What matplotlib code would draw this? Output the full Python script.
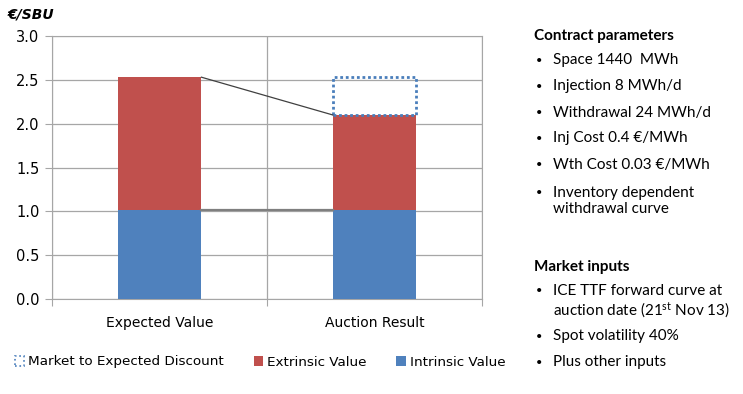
import matplotlib
matplotlib.use("Agg")
import matplotlib.pyplot as plt
from matplotlib.patches import Patch

# データ
categories = ["Expected Value", "Auction Result"]
intrinsic = [1.02, 1.02]
extrinsic = [1.51, 1.08]
discount = [0.0, 0.43]

contract_items = ["Space 1440  MWh", "Injection 8 MWh/d", "Withdrawal 24 MWh/d",
                  "Inj Cost 0.4 €/MWh", "Wth Cost 0.03 €/MWh",
                  "Inventory dependent\nwithdrawal curve"]
market_items = ["ICE TTF forward curve at\nauction date (21$^{st}$ Nov 13)",
                "Spot volatility 40%", "Plus other inputs"]

blue = "#4F81BD"
red = "#C0504D"
grid = "#A6A6A6"

plt.rcParams['mathtext.default'] = 'regular'

fig = plt.figure(figsize=(7.43, 3.94), dpi=100)
ax = fig.add_axes([52/743, 95/394, 430/743, 263/394])

x = range(len(categories))
w = 0.39
ax.bar(x, intrinsic, width=w, color=blue, zorder=3)
ax.bar(x, extrinsic, width=w, bottom=intrinsic, color=red, zorder=3)
tops = [a + b for a, b in zip(intrinsic, extrinsic)]
ax.bar(x[1], discount[1], width=w, bottom=tops[1], facecolor="none",
       edgecolor="#4A7EBB", linestyle=(0, (1, 1)), linewidth=2, zorder=3)

# 連結線
ax.plot([x[0] + w/2, x[1] - w/2], [tops[0], tops[1]], color="#404040", lw=0.9, zorder=4)
ax.plot([x[0] + w/2, x[1] - w/2], [intrinsic[0], intrinsic[1]], color="#7F7F7F", lw=1.6, zorder=4)

ax.set_xlim(-0.5, 1.5)
ax.set_ylim(0, 3.0)
ax.set_yticks([0, 0.5, 1.0, 1.5, 2.0, 2.5, 3.0])
ax.set_yticklabels([f"{v:.1f}" for v in ax.get_yticks()], fontsize=10.5)
ax.set_xticks([-0.5, 0.5, 1.5], minor=False)
ax.set_xticklabels([])
ax.set_xticks(list(x), minor=True)
ax.set_xticklabels(categories, minor=True, fontsize=10)
ax.tick_params(axis='x', which='minor', length=0, pad=12)
ax.tick_params(axis='x', which='major', length=5, color=grid)
ax.tick_params(axis='y', length=5, color=grid, pad=4)
ax.grid(True, color=grid, lw=0.9, zorder=0)
for s in ax.spines.values():
    s.set_color(grid)

fig.text(8/743, 1 - 15/394, "€/SBU", fontsize=10, fontweight='bold', style='italic',
         va='center', ha='left')

handles = [Patch(facecolor='white', edgecolor="#4A7EBB", linestyle=':', linewidth=1.2),
           Patch(facecolor=red), Patch(facecolor=blue)]
labels = ["Market to Expected Discount", "Extrinsic Value", "Intrinsic Value"]
fig.legend(handles, labels, loc='center', bbox_to_anchor=(260/743, 1 - 362/394), ncol=3,
           frameon=False, fontsize=9.7, handlelength=0.7, handleheight=0.7,
           handletextpad=0.3, columnspacing=2.2)

# 右側のテキスト
rf = "Lato"
fs = 11
fig.text(534/743, 1 - 36/394, "Contract parameters", fontsize=fs, fontweight='bold',
         family=rf, va='center')
ys = [63, 89, 116, 141, 168, 196]
for y, t in zip(ys, contract_items):
    fig.text(536/743, 1 - (y - 3)/394, "•", fontsize=8, family=rf, va='center')
    fig.text(553/743, 1 - (y - 10)/394, t, fontsize=fs, family=rf, va='top', linespacing=1.15)

fig.text(534/743, 1 - 267/394, "Market inputs", fontsize=fs, fontweight='bold',
         family=rf, va='center')
ys = [294, 339, 365]
for y, t in zip(ys, market_items):
    fig.text(536/743, 1 - (y - 3)/394, "•", fontsize=8, family=rf, va='center')
    fig.text(553/743, 1 - (y - 10)/394, t, fontsize=fs, family=rf, va='top', linespacing=1.15)

fig.savefig("out.png", dpi=100)
